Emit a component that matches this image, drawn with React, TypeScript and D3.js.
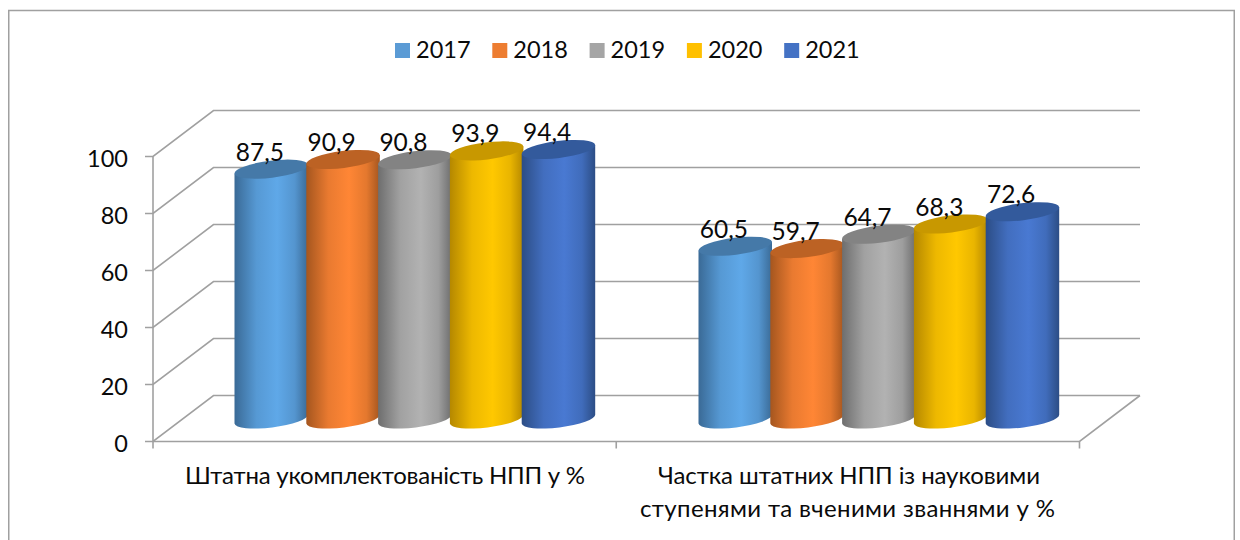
import React from "react";
import * as d3 from "d3";

const years = ["2017", "2018", "2019", "2020", "2021"];
const categories = ["a", "b"];
const categoryLines = [
  ["Штатна укомплектованість НПП у %"],
  ["Частка штатних НПП із науковими", "ступенями та вченими званнями у %"],
];
const valuesA = [87.5, 90.9, 90.8, 93.9, 94.4];
const valuesB = [60.5, 59.7, 64.7, 68.3, 72.6];
const seriesValues = [valuesA, valuesB];
const yTicks = [0, 20, 40, 60, 80, 100];
const swatch = ["#5B9BD5", "#ED7D31", "#A5A5A5", "#FFC000", "#4472C4"];
const bodyLight = ["#5FA8E8", "#FF8635", "#B2B2B2", "#FFC800", "#4979D2"];
const bodyDark = ["#3A6A96", "#A5561F", "#6E6E6E", "#B58800", "#2C4D85"];
const topColor = ["#4579A8", "#BC6224", "#838383", "#C89800", "#335A9C"];

const FONT = "Lato, Carlito, 'Open Sans', sans-serif";
const fmt = (v: number) => String(v).replace(".", ",");

const W = 1240, H = 540;
const frontX0 = 153, frontX1 = 1079.5, backDx = 60.5, backDy = -46;
const frontY = d3.scaleLinear().domain([0, 100]).range([441.5, 156.5]);
const midY = d3.scaleLinear().domain([0, 100]).range([419, 133.5]);
const xBand = d3.scaleBand().domain(categories).range([182, 1110]);
const barStep = 71.8;
const barW = 73.5;
const tilt = 4.5, ellRy = 8.5;
const catWidths = [[400], [382, 415]];
const catCentres = [[385], [849, 847.5]];

export default function App() {
  const rot = (Math.atan2(-tilt, barW / 2) * 180) / Math.PI;
  const rx = Math.hypot(barW / 2, tilt) - 0.1;
  const grid = "#A0A0A0";
  return (
    <svg width={W} height={H} style={{ position: "absolute", left: 0, top: 0 }} fontFamily={FONT}>
      <defs>
        {years.map((y, i) => (
          <linearGradient key={y} id={`g${i}`} x1="0" x2="1" y1="0" y2="0">
            <stop offset="0" stopColor={bodyDark[i]} />
            <stop offset="0.3" stopColor={d3.interpolateRgb(bodyDark[i], bodyLight[i])(0.75)} />
            <stop offset="0.58" stopColor={bodyLight[i]} />
            <stop offset="0.82" stopColor={d3.interpolateRgb(bodyDark[i], bodyLight[i])(0.7)} />
            <stop offset="1" stopColor={bodyDark[i]} />
          </linearGradient>
        ))}
      </defs>
      <rect x={8.75} y={10.5} width={1225.5} height={H + 10} fill="#fff" stroke="#A0A0A0" strokeWidth={1.5} />

      {/* legend */}
      {years.map((y, i) => {
        const lx = 395 + i * 97.3;
        return (
          <g key={y}>
            <rect x={lx} y={43} width={15} height={15} fill={swatch[i]} />
            <text x={lx + 21} y={58} fontSize={23.5} fill="#0a0a0a">{y}</text>
          </g>
        );
      })}

      {/* walls */}
      <g stroke={grid} strokeWidth={1.6} fill="none">
        {yTicks.map((t) => {
          const y = frontY(t);
          return (
            <path key={t} d={`M${frontX0 - 8},${y}H${frontX0}L${frontX0 + backDx},${y + backDy}H${frontX1 + backDx}`} />
          );
        })}
        <path d={`M${frontX0},${frontY(100)}V${frontY(0) + 7}`} />
        <path d={`M${frontX0},${frontY(0)}H${frontX1}L${frontX1 + backDx},${frontY(0) + backDy}`} />
        <path d={`M${frontX1},${frontY(0)}v7M${(frontX0 + frontX1) / 2},${frontY(0)}v7`} />
      </g>

      {/* y labels */}
      {yTicks.map((t) => (
        <text key={t} x={128} y={frontY(t) + 10} textAnchor="end" fontSize={23.5} fill="#0a0a0a">{t}</text>
      ))}

      {/* cylinders */}
      {categories.map((c, ci) => {
        const cx0 = xBand(c)! + xBand.bandwidth() / 2 - (barStep * years.length) / 2;
        return seriesValues[ci].map((v, i) => {
          const x = cx0 + i * barStep;
          const xr = x + barW;
          const top = midY(v), bot = midY(0);
          const body = `M${x},${top + tilt}L${xr},${top - tilt}L${xr},${bot - tilt}A${rx},${ellRy} ${rot} 0 1 ${x},${bot + tilt}Z`;
          const cap = `M${x},${top + tilt}A${rx},${ellRy} ${rot} 0 1 ${xr},${top - tilt}A${rx},${ellRy} ${rot} 0 1 ${x},${top + tilt}Z`;
          return (
            <g key={`${c}${i}`}>
              <path d={body} fill={`url(#g${i})`} />
              <path d={cap} fill={topColor[i]} />
            </g>
          );
        });
      })}

      {/* data labels */}
      {categories.map((c, ci) => {
        const cx0 = xBand(c)! + xBand.bandwidth() / 2 - (barStep * years.length) / 2;
        return seriesValues[ci].map((v, i) => (
          <text key={`${c}l${i}`} x={cx0 + i * barStep + barStep / 2 - 10.5} y={midY(v) - 8.5} textAnchor="middle" fontSize={24.5} fill="#0a0a0a">
            {fmt(v)}
          </text>
        ));
      })}

      {/* category labels */}
      {categoryLines.map((lines, ci) =>
        lines.map((l, li) => (
          <text key={l} x={catCentres[ci][li]} y={484 + li * 33} textAnchor="middle" fontSize={24} textLength={catWidths[ci][li]} fill="#0a0a0a">{l}</text>
        ))
      )}
    </svg>
  );
}
